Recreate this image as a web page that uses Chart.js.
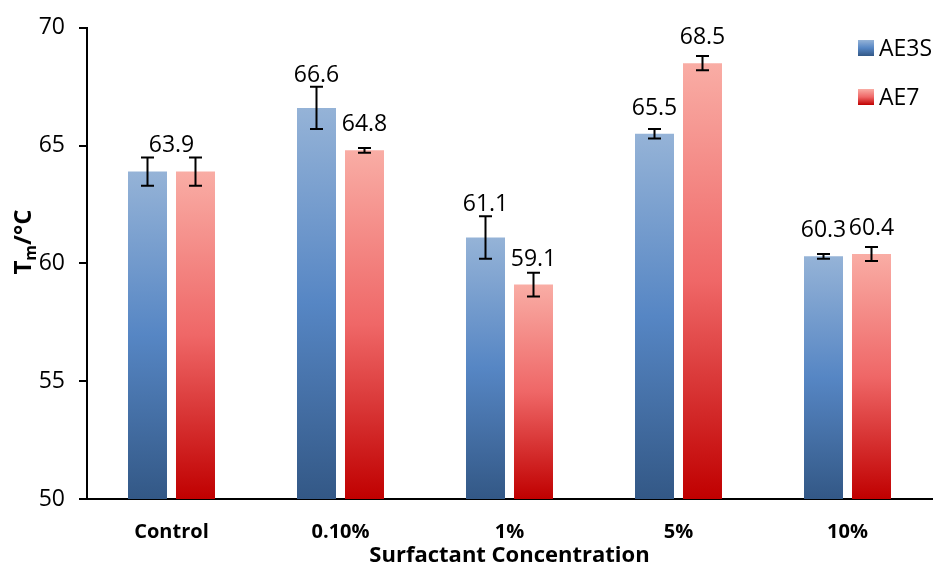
<!DOCTYPE html>
<html>
<head>
<meta charset="utf-8">
<script src="https://cdn.jsdelivr.net/npm/chart.js@4/dist/chart.umd.min.js"></script>
<style>
  html, body { margin: 0; padding: 0; background: #fff; }
  #wrap { width: 934px; height: 565px; }
</style>
</head>
<body>
<div id="wrap"><canvas id="tmChart" width="934" height="565"></canvas></div>
<script>
var categories = ['Control', '0.10%', '1%', '5%', '10%'];
var seriesNames = ['AE3S', 'AE7'];
var ae3sValues = [63.9, 66.6, 61.1, 65.5, 60.3];
var ae7Values = [63.9, 64.8, 59.1, 68.5, 60.4];
var ae3sErrors = [0.6, 0.9, 0.9, 0.2, 0.1];
var ae7Errors = [0.6, 0.1, 0.5, 0.3, 0.3];
var yTicks = [50, 55, 60, 65, 70];
var yTitle = ['T', 'm', '/°C']; // T with subscript m

var FONT = "'Open Sans', 'Liberation Sans', sans-serif";

// gradient stops: light top, mid, dark bottom
var blueStops = ['#95b3d7', '#5686c4', '#335886'];
var redStops = ['#f9ada5', '#ef6767', '#c00000'];

function barGradient(ctx, stops) {
    var chart = ctx.chart;
    if (!chart.chartArea || ctx.type !== 'data') return stops[1];
    var y = chart.scales.y;
    var top = y.getPixelForValue(ctx.raw);
    var bottom = y.getPixelForValue(yTicks[0]);
    var g = chart.ctx.createLinearGradient(0, top, 0, bottom);
    g.addColorStop(0, stops[0]);
    g.addColorStop(0.5, stops[1]);
    g.addColorStop(1, stops[2]);
    return g;
}

// error bars + value labels
var errorBarsPlugin = {
    id: 'errorBars',
    afterDatasetsDraw: function(chart) {
        var ctx = chart.ctx;
        var y = chart.scales.y;
        var errs = [ae3sErrors, ae7Errors];
        var labelPos = [[], []];
        ctx.save();
        ctx.strokeStyle = '#000';
        ctx.lineWidth = 2;
        chart.data.datasets.forEach(function(ds, i) {
            var meta = chart.getDatasetMeta(i);
            meta.data.forEach(function(el, j) {
                var v = ds.data[j];
                var e = errs[i][j];
                var yt = y.getPixelForValue(v + e);
                var yb = y.getPixelForValue(v - e);
                ctx.beginPath();
                ctx.moveTo(el.x, yt); ctx.lineTo(el.x, yb);
                ctx.moveTo(el.x - 6.5, yt); ctx.lineTo(el.x + 6.5, yt);
                ctx.moveTo(el.x - 6.5, yb); ctx.lineTo(el.x + 6.5, yb);
                ctx.stroke();
                labelPos[i][j] = { x: el.x, y: Math.min(el.y - 19, yt - 5) };
            });
        });
        ctx.fillStyle = '#000';
        ctx.font = '23px ' + FONT;
        ctx.textAlign = 'center';
        ctx.textBaseline = 'alphabetic';
        categories.forEach(function(c, j) {
            var a = ae3sValues[j], b = ae7Values[j];
            if (a === b) {
                ctx.fillText(a.toFixed(1), (labelPos[0][j].x + labelPos[1][j].x) / 2,
                    Math.min(labelPos[0][j].y, labelPos[1][j].y));
            } else {
                ctx.fillText(a.toFixed(1), labelPos[0][j].x, labelPos[0][j].y);
                ctx.fillText(b.toFixed(1), labelPos[1][j].x, labelPos[1][j].y);
            }
        });
        ctx.restore();
    }
};

var legendPlugin = {
    id: 'sideLegend',
    afterDraw: function(chart) {
        var ctx = chart.ctx;
        var stops = [blueStops, redStops];
        ctx.save();
        ctx.font = '23px ' + FONT;
        ctx.textBaseline = 'middle';
        ctx.textAlign = 'left';
        seriesNames.forEach(function(name, i) {
            var bx = 858, by = 40 + i * 49;
            var g = ctx.createLinearGradient(0, by, 0, by + 16);
            g.addColorStop(0, stops[i][0]);
            g.addColorStop(0.5, stops[i][1]);
            g.addColorStop(1, stops[i][2]);
            ctx.fillStyle = g;
            ctx.fillRect(bx, by, 16, 16);
            ctx.fillStyle = '#000';
            ctx.fillText(name, bx + 21, by + 9);
        });
        ctx.restore();
    }
};

// rotated y title with a real subscript
var yTitlePlugin = {
    id: 'yTitleSub',
    afterDraw: function(chart) {
        var ctx = chart.ctx;
        var big = 'bold 24px ' + FONT;
        var small = 'bold 16px ' + FONT;
        ctx.save();
        ctx.font = big;
        var w1 = ctx.measureText(yTitle[0]).width;
        var w3 = ctx.measureText(yTitle[2]).width;
        ctx.font = small;
        var w2 = ctx.measureText(yTitle[1]).width;
        var total = w1 + w2 + w3;
        ctx.translate(31, 242);
        ctx.rotate(-Math.PI / 2);
        ctx.fillStyle = '#000';
        ctx.textAlign = 'left';
        ctx.textBaseline = 'alphabetic';
        var x = -total / 2;
        ctx.font = big;
        ctx.fillText(yTitle[0], x, 0);
        x += w1;
        ctx.font = small;
        ctx.fillText(yTitle[1], x, 5);
        x += w2;
        ctx.font = big;
        ctx.fillText(yTitle[2], x, 0);
        ctx.restore();
    }
};

var chart = new Chart(document.getElementById('tmChart').getContext('2d'), {
    type: 'bar',
    data: {
        labels: categories,
        datasets: [{
            label: seriesNames[0],
            data: ae3sValues,
            backgroundColor: function(ctx) { return barGradient(ctx, blueStops); },
            categoryPercentage: 0.568,
            barPercentage: 0.8125
        }, {
            label: seriesNames[1],
            data: ae7Values,
            backgroundColor: function(ctx) { return barGradient(ctx, redStops); },
            categoryPercentage: 0.568,
            barPercentage: 0.8125
        }]
    },
    options: {
        responsive: false,
        animation: false,
        layout: { padding: { top: 26, right: 2, left: 0, bottom: 0 } },
        plugins: {
            legend: { display: false },
            tooltip: { enabled: false }
        },
        scales: {
            x: {
                grid: { display: false },
                border: { display: true, color: '#000', width: 2 },
                ticks: { color: '#000', font: { family: FONT, size: 20, weight: 'bold' }, padding: 13 },
                title: {
                    display: true,
                    text: 'Surfactant Concentration',
                    color: '#000',
                    font: { family: FONT, size: 22, weight: 'bold' },
                    padding: { top: 0, bottom: -4 }
                },
                afterFit: function(s) { s.height = 66; }
            },
            y: {
                min: 50,
                max: 70,
                afterBuildTicks: function(s) {
                    s.ticks = yTicks.map(function(v) { return { value: v }; });
                },
                grid: { display: true, drawOnChartArea: false, drawTicks: true, tickLength: 8, color: '#000', lineWidth: 2 },
                border: { display: true, color: '#000', width: 2 },
                ticks: { color: '#000', font: { family: FONT, size: 23 }, padding: 14 },
                afterFit: function(s) { s.width = 87; }
            }
        }
    },
    plugins: [errorBarsPlugin, legendPlugin, yTitlePlugin]
});
</script>
</body>
</html>
